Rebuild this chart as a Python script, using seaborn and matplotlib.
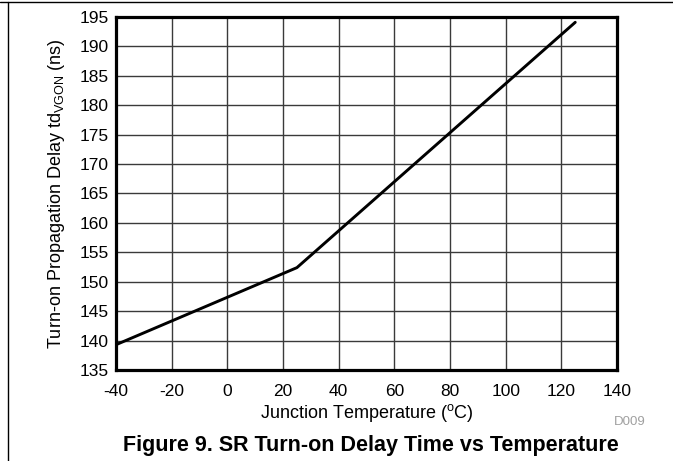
import matplotlib
matplotlib.use("Agg")
import matplotlib.pyplot as plt
import seaborn as sns
import pandas as pd
from matplotlib.lines import Line2D

# Okunan degerler (sicaklik, gecikme)
sicaklik = [-40, 25, 125]
gecikme = [139.3, 152.4, 194.1]
x_ticks = [-40, -20, 0, 20, 40, 60, 80, 100, 120, 140]
y_ticks = [135, 140, 145, 150, 155, 160, 165, 170, 175, 180, 185, 190, 195]

df = pd.DataFrame({"T": sicaklik, "td": gecikme})

sns.set_theme(style="white")
plt.rcParams["font.family"] = ["Liberation Sans", "DejaVu Sans"]
plt.rcParams["mathtext.fontset"] = "custom"
plt.rcParams["mathtext.rm"] = "Liberation Sans"
plt.rcParams["mathtext.it"] = "Liberation Sans"
plt.rcParams["axes.unicode_minus"] = False
plt.rcParams["text.color"] = "black"
plt.rcParams["axes.labelcolor"] = "black"

fig = plt.figure(figsize=(6.73, 4.61), dpi=100)
ax = fig.add_axes([116 / 673, 1 - 370 / 461, 501 / 673, 353 / 461])

sns.lineplot(data=df, x="T", y="td", ax=ax, color="black", linewidth=2.1)

ax.set_xlim(-40, 140)
ax.set_ylim(135, 195)
ax.set_xticks(x_ticks)
ax.set_yticks(y_ticks)
ax.grid(True, color="#3a3a3a", linewidth=1)
ax.set_axisbelow(True)
for s in ax.spines.values():
    s.set_color("black")
    s.set_linewidth(2.3)
ax.tick_params(axis="both", length=0, labelsize=12.5, colors="black")
ax.tick_params(axis="x", pad=10)
ax.tick_params(axis="y", pad=5)

ax.set_xlabel(r"Junction Temperature ($^{\mathrm{o}}$C)", fontsize=13, labelpad=2)
ax.set_ylabel(r"Turn-on Propagation Delay td$_{\mathrm{VGON}}$ (ns)", fontsize=13, labelpad=9)

fig.text(630 / 673, 1 - 422 / 461, "D009", color="#a0a0a0", fontsize=9.5, ha="center", va="center")
fig.text(371 / 673, 1 - 445 / 461, "Figure 9. SR Turn-on Delay Time vs Temperature",
         fontsize=15.5, fontweight="bold", ha="center", va="center", color="black")

# cerceve cizgileri
fig.add_artist(Line2D([0, 1], [1 - 2.5 / 461, 1 - 2.5 / 461], color="black", linewidth=1))
fig.add_artist(Line2D([7.5 / 673, 7.5 / 673], [0, 1 - 2.5 / 461], color="black", linewidth=1))

fig.savefig("out.png", dpi=100)
